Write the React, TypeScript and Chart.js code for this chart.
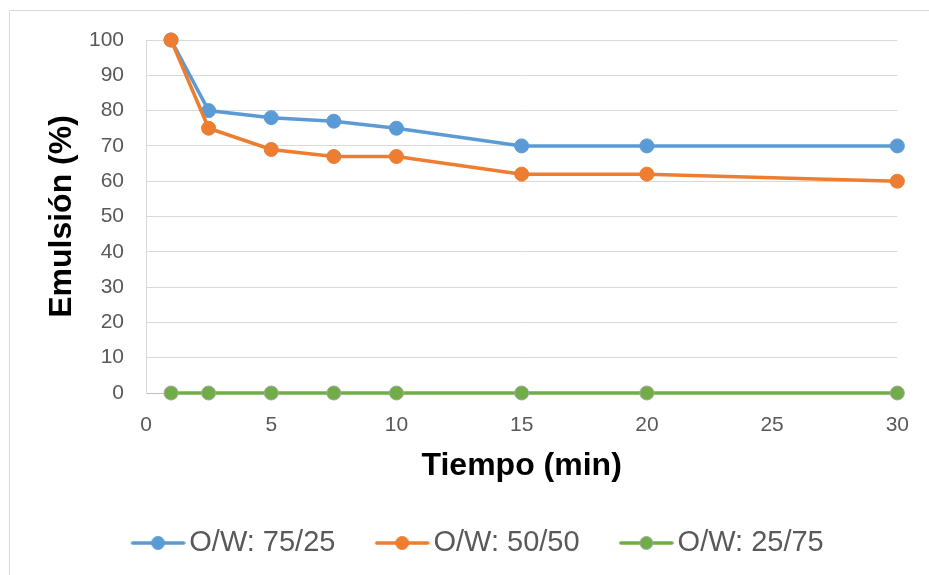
import React, { useEffect, useRef } from 'react';
import { Chart, registerables } from 'chart.js';

Chart.register(...registerables);

// ---- data ----
const timeMin = [1, 2.5, 5, 7.5, 10, 15, 20, 30];
const ow7525 = [100, 80, 78, 77, 75, 70, 70, 70];
const ow5050 = [100, 75, 69, 67, 67, 62, 62, 60];
const ow2575 = [0, 0, 0, 0, 0, 0, 0, 0];
const seriesLabels = ['O/W: 75/25', 'O/W: 50/50', 'O/W: 25/75'];
const xTitle = 'Tiempo (min)';
const yTitle = 'Emulsión (%)';

// ---- styles ----
const seriesColors = ['#5B9BD5', '#ED7D31', '#70AD47'];
const markerBorders = ['#5B9BD5', '#ED7D31', '#A5A5A5'];
const FONT = "'Liberation Sans', Arial, Helvetica, sans-serif";

function legendIcon(color: string, border: string): HTMLCanvasElement {
  const c = document.createElement('canvas');
  c.width = 65;
  c.height = 18;
  const g = c.getContext('2d')!;
  g.strokeStyle = color;
  g.lineWidth = 3.5;
  g.lineCap = 'round';
  g.beginPath();
  g.moveTo(12, 9);
  g.lineTo(63, 9);
  g.stroke();
  g.beginPath();
  g.arc(37.5, 9, 6.5, 0, Math.PI * 2);
  g.fillStyle = color;
  g.fill();
  g.lineWidth = 1;
  g.strokeStyle = border;
  g.stroke();
  return c;
}

const framePlugin = {
  id: 'frame',
  beforeDraw(chart: any) {
    const ctx = chart.ctx;
    ctx.save();
    ctx.fillStyle = '#ffffff';
    ctx.fillRect(0, 0, chart.width, chart.height);
    ctx.strokeStyle = '#D9D9D9';
    ctx.lineWidth = 1;
    ctx.beginPath();
    ctx.moveTo(9.5, chart.height);
    ctx.lineTo(9.5, 10.5);
    ctx.lineTo(chart.width, 10.5);
    ctx.stroke();
    ctx.restore();
  },
};

export default function App() {
  const ref = useRef<HTMLCanvasElement | null>(null);

  useEffect(() => {
    if (!ref.current) return;
    const series = [ow7525, ow5050, ow2575];
    const icons = series.map((_, i) => legendIcon(seriesColors[i], markerBorders[i]));
    const chart = new Chart(ref.current, {
      type: 'line',
      data: {
        datasets: series.map((vals, i) => ({
          label: seriesLabels[i],
          data: timeMin.map((t, j) => ({ x: t, y: vals[j] })),
          borderColor: seriesColors[i],
          backgroundColor: seriesColors[i],
          pointBackgroundColor: seriesColors[i],
          pointBorderColor: markerBorders[i],
          pointBorderWidth: 1,
          pointRadius: 7,
          pointHoverRadius: 7,
          borderWidth: 3.5,
          tension: 0,
          fill: false,
          clip: false,
          order: 3 - i,
        })),
      },
      options: {
        responsive: false,
        animation: false,
        events: [],
        layout: { padding: { left: 57, right: 31, top: 40, bottom: 7.5 } },
        scales: {
          x: {
            type: 'linear',
            min: 0,
            max: 30,
            ticks: { stepSize: 5, color: '#595959', font: { family: FONT, size: 21 }, padding: 20 },
            grid: { display: false, drawTicks: false },
            border: { display: true, color: '#BFBFBF', width: 1 },
            title: {
              display: true,
              text: xTitle,
              color: '#000000',
              font: { family: FONT, size: 32, weight: 'bold' },
              padding: { top: 0, bottom: 3 },
            },
            afterFit(scale: any) {
              scale.height = 95.5;
            },
          },
          y: {
            min: 0,
            max: 100,
            ticks: { stepSize: 10, color: '#595959', font: { family: FONT, size: 21 }, padding: 22 },
            grid: { color: '#D9D9D9', lineWidth: 1, drawTicks: false },
            border: { display: true, color: '#D9D9D9', width: 1 },
            title: {
              display: true,
              text: yTitle,
              color: '#000000',
              font: { family: FONT, size: 32, weight: 'bold' },
              padding: { top: -14, bottom: 0 },
            },
            afterFit(scale: any) {
              scale.width = 89;
            },
          },
        },
        plugins: {
          tooltip: { enabled: false },
          title: { display: false },
          legend: {
            display: true,
            position: 'bottom',
            labels: {
              color: '#595959',
              font: { family: FONT, size: 29 },
              usePointStyle: true,
              pointStyleWidth: 43.5,
              padding: 40,
              sort: (a: any, b: any) => a.datasetIndex - b.datasetIndex,
              generateLabels(ch: any) {
                const items = Chart.defaults.plugins.legend.labels.generateLabels(ch);
                return items.map((it: any) => ({ ...it, pointStyle: icons[it.datasetIndex] }));
              },
            },
          },
        },
      },
      plugins: [framePlugin],
    } as any);
    return () => chart.destroy();
  }, []);

  return (
    <div style={{ position: 'absolute', left: 0, top: 0, width: 929, height: 575 }}>
      <canvas ref={ref} width={929} height={575} style={{ width: 929, height: 575, display: 'block' }} />
    </div>
  );
}
